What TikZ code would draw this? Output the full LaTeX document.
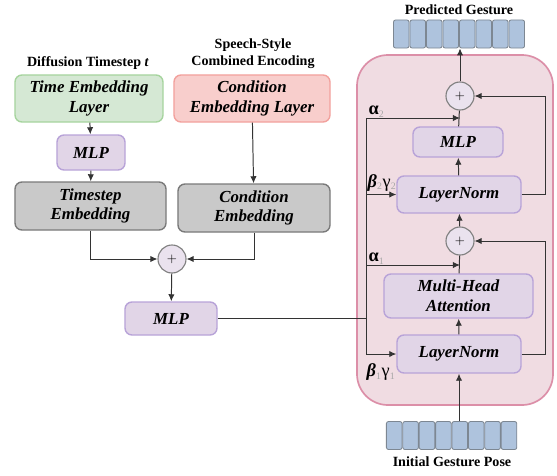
\documentclass[tikz,border=0pt]{standalone}
\usepackage{fontspec}
\setmainfont{Liberation Serif}
\usetikzlibrary{arrows.meta}
\definecolor{timegreen}{HTML}{D5E8D4}
\definecolor{timegreenline}{HTML}{A6D49E}
\definecolor{condred}{HTML}{F8CECC}
\definecolor{condredline}{HTML}{F2A19D}
\definecolor{blockpurple}{HTML}{E1D5E7}
\definecolor{blockpurpleline}{HTML}{B8A3D8}
\definecolor{embgray}{HTML}{C9C9C9}
\definecolor{embgrayline}{HTML}{7A7A7A}
\definecolor{layerpink}{HTML}{F0DCE2}
\definecolor{layerpinkline}{HTML}{DC8FA8}
\definecolor{tokenblue}{HTML}{AEC3DD}
\definecolor{tokenline}{HTML}{7D8792}
\definecolor{wire}{HTML}{333333}
\tikzset{
    box/.style={draw, rounded corners=5pt, line width=1pt, align=center,
        font=\fontsize{12}{14}\selectfont\bfseries\itshape, inner sep=2pt},
    greenbox/.style={box, fill=timegreen, draw=timegreenline},
    redbox/.style={box, fill=condred, draw=condredline},
    purplebox/.style={box, fill=blockpurple, draw=blockpurpleline},
    graybox/.style={box, fill=embgray, draw=embgrayline},
    addnode/.style={draw=gray, circle, fill=blockpurple!70!white, line width=0.8pt,
        minimum size=0.7cm, inner sep=0pt, font=\small},
    token/.style={draw=tokenline, fill=tokenblue, rounded corners=1.5pt, line width=0.6pt,
        minimum width=0.39cm, minimum height=0.7cm, inner sep=0pt},
    title/.style={font=\fontsize{10}{12}\selectfont\bfseries, align=center},
    coef/.style={font=\fontsize{13}{14}\selectfont, inner sep=1pt},
    wire/.style={draw=wire, line width=0.7pt},
    arr/.style={wire, -{Latex[length=5pt,width=4.5pt]}}
}
\newcommand{\sbs}[1]{\textsubscript{\color{gray!70}\fontsize{7}{7}\selectfont #1}}
\begin{document}
\begin{tikzpicture}[x=0.025cm, y=-0.025cm]
    \useasboundingbox (0,0) rectangle (557,475);

    % transformer layer background
    \draw[fill=layerpink, draw=layerpinkline, line width=1.2pt, rounded corners=22pt]
        (357,55) rectangle (553,405);

    % left branch
    \node[title] (ttl) at (88,63) {Diffusion Timestep \textit{t}};
    \node[title] (ctl) at (253,54) {Speech-Style\\Combined Encoding};
    \node[greenbox, minimum width=3.7cm, minimum height=1.175cm] (tel) at (89,98.5) {Time Embedding\\Layer};
    \node[redbox, minimum width=3.9cm, minimum height=1.175cm] (cel) at (252,98.5) {Condition\\Embedding Layer};
    \node[purplebox, minimum width=1.7cm, minimum height=0.875cm] (mlpa) at (91,152.5) {MLP};
    \node[graybox, minimum width=3.775cm, minimum height=1.2cm] (tse) at (90.5,206) {Timestep\\Embedding};
    \node[graybox, minimum width=3.8cm, minimum height=1.2cm] (ce) at (254,208) {Condition\\Embedding};
    \node[addnode] (plusa) at (172,259) {$+$};
    \node[purplebox, minimum width=2.3cm, minimum height=0.825cm] (mlpb) at (171,318.5) {MLP};

    \draw[arr] (tel) -- (mlpa);
    \draw[arr] (mlpa) -- (tse);
    \draw[arr] (cel) -- (ce);
    \draw[arr] (tse.south) |- (plusa.west);
    \draw[arr] (ce.south) |- (plusa.east);
    \draw[arr] (plusa) -- (mlpb);

    % right branch
    \node[addnode] (plusb) at (460,96) {$+$};
    \node[purplebox, minimum width=2.25cm, minimum height=0.75cm] (mlpc) at (458,142) {MLP};
    \node[purplebox, minimum width=3.1cm, minimum height=0.925cm] (ln2) at (459,194.5) {LayerNorm};
    \node[addnode] (plusc) at (460,241) {$+$};
    \node[purplebox, minimum width=3.725cm, minimum height=1.1cm] (mha) at (458.5,296) {Multi-Head\\Attention};
    \node[purplebox, minimum width=3.1cm, minimum height=0.95cm] (ln1) at (459,354) {LayerNorm};

    % gesture tokens
    \foreach \i in {1,...,8} {
        \node[token] (top\i) at ({393+8.25+16.5*(\i-1)},34) {};
        \node[token] (bot\i) at ({386+8.2+16.4*(\i-1)},435.5) {};
    }
    \node[title] (pgl) at (459,10) {Predicted Gesture};
    \node[title] (igl) at (452,462) {Initial Gesture Pose};

    % conditioning spine
    \coordinate (spt) at (366,118);
    \coordinate (spb) at (366,354);
    \draw[wire] (spt) -- (spb);
    \draw[wire] (mlpb.east) -- (mlpb.east -| spt);
    \draw[arr] (spt) -- (plusb.center |- spt);
    \draw[arr] (366,265) -- (plusc.center |- 0,265);
    \draw[arr] (ln2.west -| spt) -- (ln2.west);
    \draw[arr] (spb) -- (ln1.west);

    \node[coef, anchor=south west] (a2) at (367,119) {\textbf{α}\sbs{2}};
    \node[coef, anchor=south west] (bg2) at (366,193) {\textbf{\textit{β}}\sbs{2}γ\sbs{2}};
    \node[coef, anchor=south west] (a1) at (367,266) {\textbf{α}\sbs{1}};
    \node[coef, anchor=north west] (bg1) at (365,362) {\textbf{\textit{β}}\sbs{1}γ\sbs{1}};

    % main path
    \draw[arr] (bot1.north -| ln1.south) -- (ln1.south);
    \draw[arr] (ln1) -- (mha);
    \draw[wire] (mha) -- (plusc);
    \draw[arr] (plusc) -- (ln2);
    \draw[arr] (ln2) -- (mlpc);
    \draw[wire] (mlpc) -- (plusb);
    \draw[arr] (plusb) -- (plusb.north |- top1.south);

    % residuals
    \draw[arr] (ln1.east) -- ++(24,0) |- (plusc.east);
    \draw[arr] (ln2.east) -- ++(24,0) |- (plusb.east);
\end{tikzpicture}
\end{document}
